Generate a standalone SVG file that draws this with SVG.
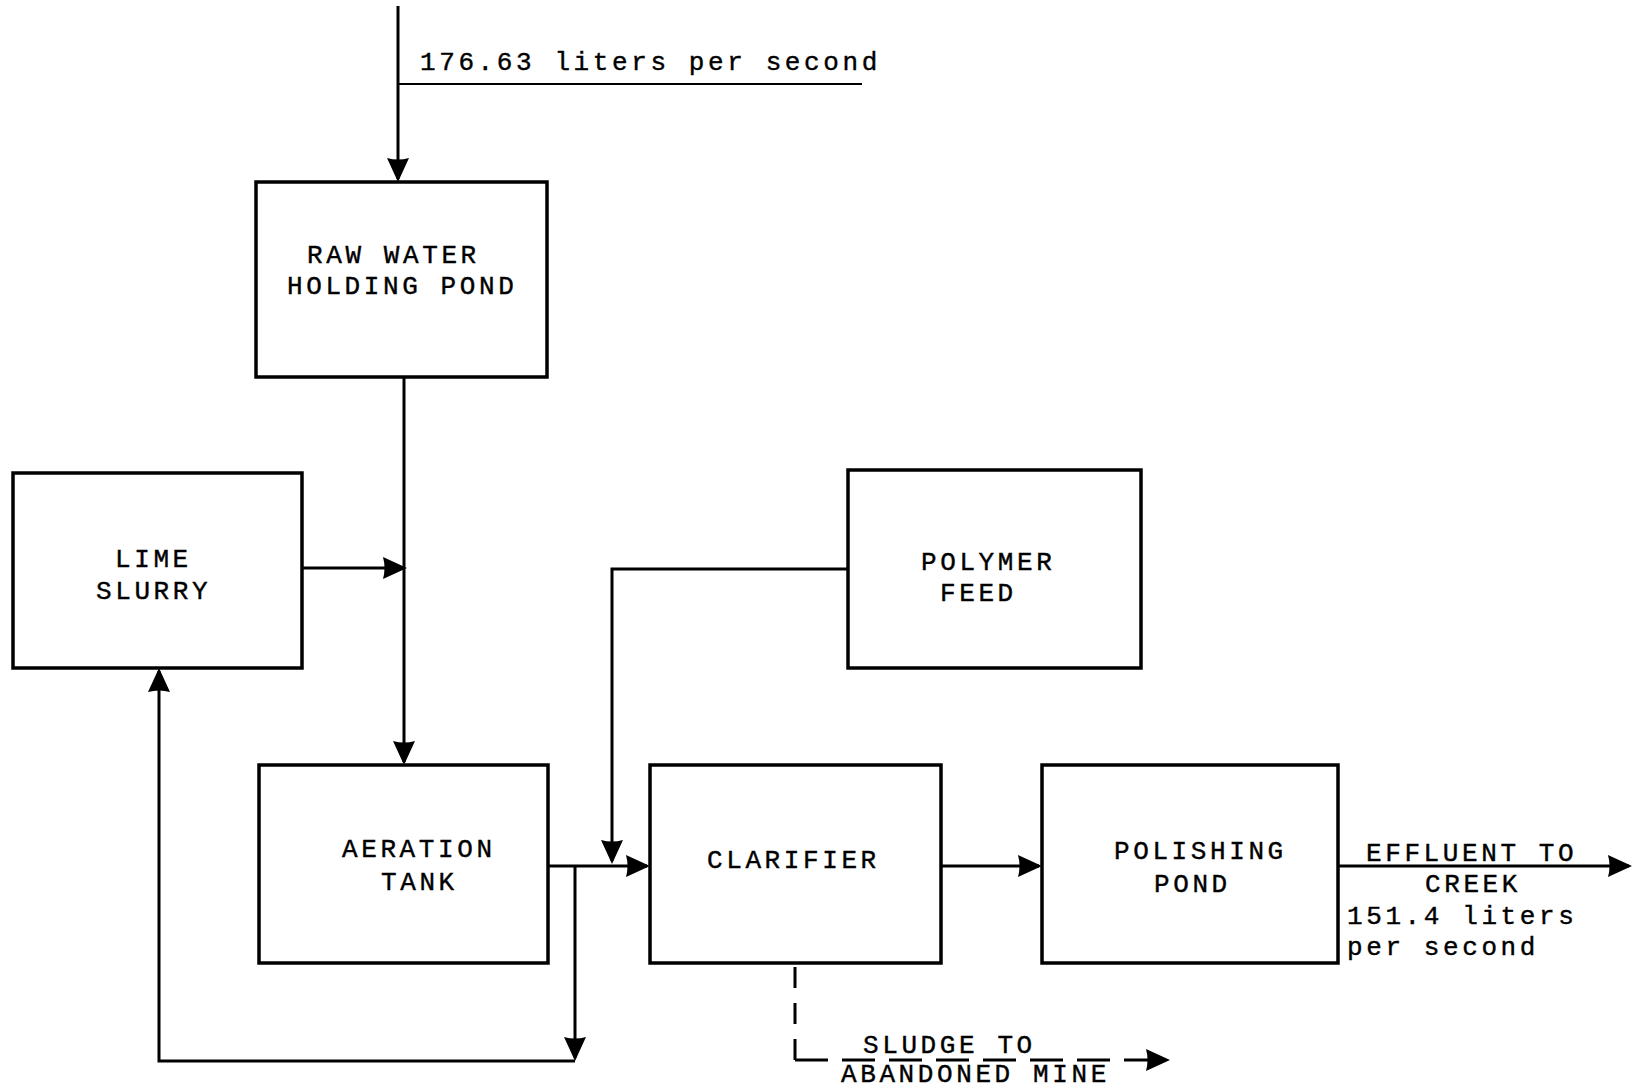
<svg xmlns="http://www.w3.org/2000/svg" width="1645" height="1088" viewBox="0 0 1645 1088">
  <style>
    .box { fill: #ffffff; stroke: #000000; stroke-width: 3.5; }
    .lbl { font-family: "Liberation Mono", "DejaVu Sans Mono", monospace; font-size: 26px; letter-spacing: 3.6px; fill: #000000; stroke: #000000; stroke-width: 0.4px; }
    .flow { fill: none; stroke: #000000; stroke-width: 3; }
    .thin { fill: none; stroke: #000000; stroke-width: 2; }
    .dash-v { fill: none; stroke: #000000; stroke-width: 3; stroke-dasharray: 21 15; }
    .dash-h { fill: none; stroke: #000000; stroke-width: 3; stroke-dasharray: 33 14; }
  </style>
  <defs>
    <marker id="arrow" markerUnits="userSpaceOnUse" markerWidth="24" markerHeight="24" viewBox="0 0 24 24" refX="21" refY="12" orient="auto">
      <path d="M0,1 L24,12 L0,23 Q3,12 0,1 z" fill="#000000"/>
    </marker>
  </defs>

  <rect width="1645" height="1088" fill="#ffffff"/>

  <!-- flow lines -->
  <g id="connectors">
    <!-- raw water inflow -->
    <path class="flow" d="M398,6 V179" marker-end="url(#arrow)"/>
    <path class="thin" d="M398,84 H862"/>
    <!-- holding pond to aeration tank -->
    <path class="flow" d="M404,377 V762" marker-end="url(#arrow)"/>
    <!-- lime slurry feed -->
    <path class="flow" d="M302,568 H404" marker-end="url(#arrow)"/>
    <!-- polymer feed -->
    <path class="flow" d="M848,569 H612 V861" marker-end="url(#arrow)"/>
    <!-- aeration tank to clarifier -->
    <path class="flow" d="M548,866 H647" marker-end="url(#arrow)"/>
    <!-- recycle branch -->
    <path class="flow" d="M575,866 V1058" marker-end="url(#arrow)"/>
    <path class="flow" d="M575,1061 H159 V671" marker-end="url(#arrow)"/>
    <!-- clarifier to polishing pond -->
    <path class="flow" d="M941,866 H1039" marker-end="url(#arrow)"/>
    <!-- effluent -->
    <path class="flow" d="M1338,866 H1629" marker-end="url(#arrow)"/>
    <!-- sludge (dashed) -->
    <path class="dash-v" d="M795,1060 V963"/>
    <path class="dash-h" d="M795,1060 H1167" marker-end="url(#arrow)"/>
  </g>

  <!-- flow labels -->
  <g id="flow-labels">
    <text class="lbl" x="420" y="70">176.63 liters per second</text>
    <text class="lbl" x="1366" y="861">EFFLUENT TO</text>
    <text class="lbl" x="1425" y="892">CREEK</text>
    <text class="lbl" x="1347" y="924">151.4 liters</text>
    <text class="lbl" x="1347" y="955">per second</text>
    <text class="lbl" x="863" y="1053">SLUDGE TO</text>
    <text class="lbl" x="841" y="1082">ABANDONED MINE</text>
  </g>

  <g id="raw-water-holding-pond">
    <rect class="box" x="256" y="182" width="291" height="195"/>
    <text class="lbl" x="307" y="263">RAW WATER</text>
    <text class="lbl" x="287" y="294">HOLDING POND</text>
  </g>

  <g id="lime-slurry">
    <rect class="box" x="13" y="473" width="289" height="195"/>
    <text class="lbl" x="115" y="567">LIME</text>
    <text class="lbl" x="96" y="599">SLURRY</text>
  </g>

  <g id="polymer-feed">
    <rect class="box" x="848" y="470" width="293" height="198"/>
    <text class="lbl" x="921" y="570">POLYMER</text>
    <text class="lbl" x="940" y="601">FEED</text>
  </g>

  <g id="aeration-tank">
    <rect class="box" x="259" y="765" width="289" height="198"/>
    <text class="lbl" x="342" y="857">AERATION</text>
    <text class="lbl" x="381" y="890">TANK</text>
  </g>

  <g id="clarifier">
    <rect class="box" x="650" y="765" width="291" height="198"/>
    <text class="lbl" x="707" y="868">CLARIFIER</text>
  </g>

  <g id="polishing-pond">
    <rect class="box" x="1042" y="765" width="296" height="198"/>
    <text class="lbl" x="1114" y="859">POLISHING</text>
    <text class="lbl" x="1154" y="892">POND</text>
  </g>
</svg>
